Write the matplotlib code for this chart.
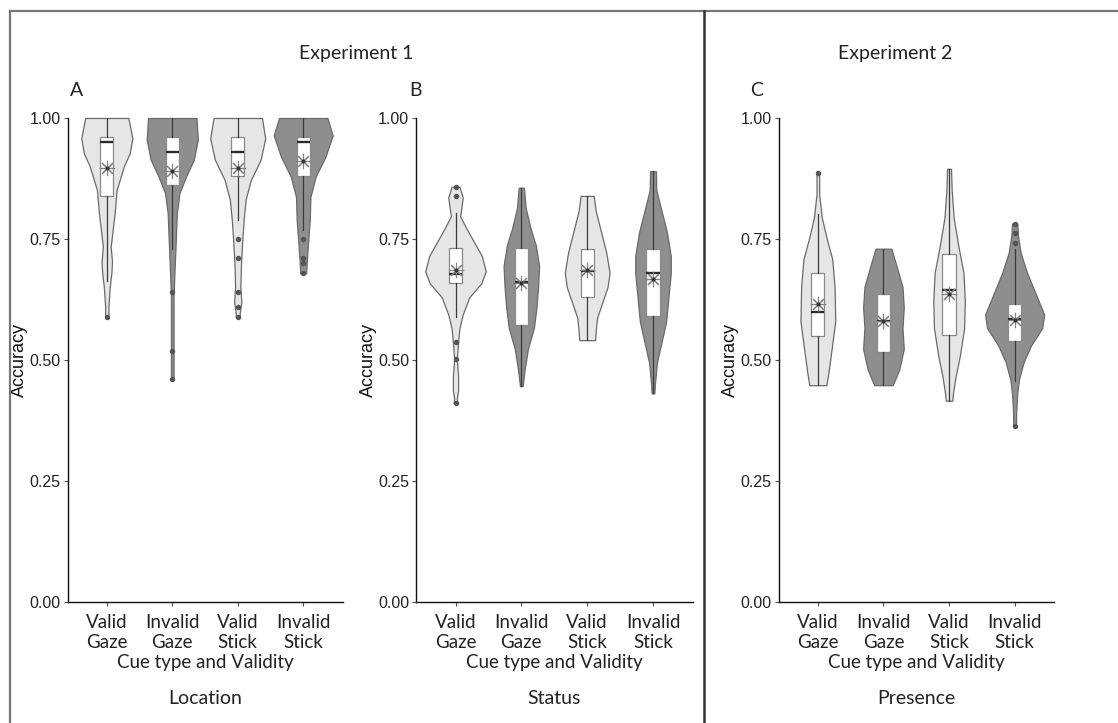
import matplotlib
matplotlib.use("Agg")
import matplotlib.pyplot as plt
from matplotlib.lines import Line2D

# ---------------- data ----------------
categories = ["Valid\nGaze", "Invalid\nGaze", "Valid\nStick", "Invalid\nStick"]
y_ticks = [0.00, 0.25, 0.50, 0.75, 1.00]
panel_letters = ["A", "B", "C"]
panel_names = ["Location", "Status", "Presence"]
experiments = ["Experiment 1", "Experiment 2"]
x_title = "Cue type and Validity"
y_title = "Accuracy"

# violin outlines: accuracy level and half-width (in category units)
a1_y = [1.000, 0.958, 0.927, 0.900, 0.851, 0.803, 0.769, 0.734, 0.703, 0.679, 0.651, 0.610, 0.589]
a1_w = [0.33, 0.39, 0.35, 0.26, 0.15, 0.12, 0.09, 0.06, 0.08, 0.07, 0.045, 0.025, 0.025]
a2_y = [1.000, 0.955, 0.914, 0.879, 0.845, 0.803, 0.734, 0.679, 0.631, 0.527, 0.460]
a2_w = [0.37, 0.39, 0.33, 0.21, 0.11, 0.07, 0.05, 0.033, 0.02, 0.02, 0.02]
a3_y = [1.000, 0.958, 0.914, 0.872, 0.831, 0.789, 0.748, 0.699, 0.651, 0.620, 0.596, 0.589]
a3_w = [0.37, 0.42, 0.35, 0.20, 0.12, 0.09, 0.07, 0.05, 0.04, 0.055, 0.03, 0.03]
a4_y = [1.000, 0.964, 0.920, 0.879, 0.837, 0.789, 0.748, 0.707, 0.683, 0.679]
a4_w = [0.37, 0.45, 0.34, 0.19, 0.11, 0.10, 0.077, 0.056, 0.046, 0.046]

b1_y = [0.858, 0.836, 0.815, 0.797, 0.772, 0.744, 0.715, 0.683, 0.658, 0.630, 0.594, 0.566, 0.537, 0.502, 0.466, 0.438, 0.420, 0.411]
b1_w = [0.06, 0.11, 0.09, 0.07, 0.165, 0.28, 0.40, 0.46, 0.39, 0.21, 0.11, 0.06, 0.04, 0.02, 0.04, 0.04, 0.02, 0.03]
b2_y = [0.856, 0.815, 0.772, 0.737, 0.694, 0.651, 0.609, 0.566, 0.523, 0.480, 0.446]
b2_w = [0.04, 0.065, 0.14, 0.22, 0.27, 0.255, 0.23, 0.19, 0.10, 0.05, 0.02]
b3_y = [0.839, 0.808, 0.765, 0.722, 0.680, 0.651, 0.623, 0.587, 0.559, 0.541]
b3_w = [0.10, 0.13, 0.21, 0.29, 0.34, 0.31, 0.24, 0.15, 0.13, 0.12]
b4_y = [0.890, 0.851, 0.808, 0.765, 0.715, 0.680, 0.637, 0.580, 0.537, 0.495, 0.452, 0.431]
b4_w = [0.045, 0.05, 0.13, 0.21, 0.27, 0.27, 0.24, 0.20, 0.13, 0.06, 0.03, 0.02]

c1_y = [0.886, 0.843, 0.794, 0.751, 0.708, 0.651, 0.580, 0.523, 0.473, 0.448]
c1_w = [0.02, 0.02, 0.06, 0.135, 0.22, 0.255, 0.265, 0.21, 0.16, 0.13]
c2_y = [0.730, 0.694, 0.651, 0.609, 0.566, 0.523, 0.480, 0.448]
c2_w = [0.12, 0.20, 0.29, 0.31, 0.29, 0.31, 0.24, 0.14]
c3_y = [0.895, 0.851, 0.794, 0.737, 0.680, 0.623, 0.566, 0.509, 0.466, 0.431, 0.416]
c3_w = [0.03, 0.04, 0.07, 0.14, 0.22, 0.24, 0.23, 0.165, 0.10, 0.06, 0.05]
c4_y = [0.782, 0.758, 0.722, 0.680, 0.637, 0.594, 0.566, 0.530, 0.495, 0.459, 0.431, 0.395, 0.364]
c4_w = [0.04, 0.05, 0.09, 0.19, 0.32, 0.45, 0.42, 0.25, 0.135, 0.065, 0.04, 0.025, 0.02]

# box-plot summaries per panel (Valid Gaze, Invalid Gaze, Valid Stick, Invalid Stick)
a_q1 = [0.839, 0.861, 0.880, 0.880]
a_med = [0.951, 0.930, 0.930, 0.951]
a_q3 = [0.960, 0.960, 0.960, 0.960]
a_lo = [0.664, 0.730, 0.789, 0.768]
a_hi = [1.000, 1.000, 1.000, 1.000]
a_mean = [0.896, 0.891, 0.896, 0.911]
a_out = [[0.589], [0.640, 0.519, 0.460], [0.750, 0.710, 0.640, 0.610, 0.589], [0.750, 0.710, 0.701, 0.680]]

b_q1 = [0.660, 0.572, 0.630, 0.590]
b_med = [0.678, 0.662, 0.683, 0.680]
b_q3 = [0.732, 0.732, 0.730, 0.730]
b_lo = [0.589, 0.446, 0.541, 0.431]
b_hi = [0.804, 0.856, 0.839, 0.890]
b_mean = [0.685, 0.660, 0.685, 0.667]
b_out = [[0.858, 0.838, 0.537, 0.502, 0.411], [], [], []]

c_q1 = [0.549, 0.517, 0.552, 0.539]
c_med = [0.599, 0.581, 0.644, 0.584]
c_q3 = [0.680, 0.636, 0.718, 0.616]
c_lo = [0.448, 0.448, 0.416, 0.456]
c_hi = [0.802, 0.730, 0.895, 0.730]
c_mean = [0.616, 0.580, 0.637, 0.582]
c_out = [[0.886], [], [], [0.782, 0.763, 0.741, 0.364]]

# ---------------- style ----------------
LIGHT = "#e6e6e6"
DARK = "#8e8e8e"
fills = [LIGHT, DARK, LIGHT, DARK]
NUM_FONT = "Liberation Sans"
TXT_FONT = "Lato"

fig = plt.figure(figsize=(11.18, 7.23), dpi=100)
W, H = 1118.0, 723.0

def px_axes(l, r, t, b):
    return fig.add_axes([l / W, 1 - b / H, (r - l) / W, (b - t) / H])

axes = [px_axes(67.5, 342.5, 118, 602),
        px_axes(416, 692.5, 118, 602),
        px_axes(778.5, 1054, 118, 602)]

profiles = [
    [(a1_y, a1_w), (a2_y, a2_w), (a3_y, a3_w), (a4_y, a4_w)],
    [(b1_y, b1_w), (b2_y, b2_w), (b3_y, b3_w), (b4_y, b4_w)],
    [(c1_y, c1_w), (c2_y, c2_w), (c3_y, c3_w), (c4_y, c4_w)],
]
summaries = [
    (a_q1, a_med, a_q3, a_lo, a_hi, a_mean, a_out),
    (b_q1, b_med, b_q3, b_lo, b_hi, b_mean, b_out),
    (c_q1, c_med, c_q3, c_lo, c_hi, c_mean, c_out),
]
positions = list(range(1, len(categories) + 1))

for ax, prof, summ, letter in zip(axes, profiles, summaries, panel_letters):
    vpstats = []
    widths = []
    for ys, ws in prof:
        vpstats.append(dict(coords=ys, vals=ws, mean=0, median=0,
                            min=min(ys), max=max(ys)))
        widths.append(2 * max(ws))
    vp = ax.violin(vpstats, positions=positions, widths=widths,
                   showmeans=False, showextrema=False, showmedians=False)
    for body, fc in zip(vp["bodies"], fills):
        body.set_facecolor(fc)
        body.set_edgecolor("#6a6a6a")
        body.set_linewidth(0.9)
        body.set_alpha(1)
        body.set_zorder(1)
        body.set_clip_on(False)

    q1, med, q3, lo, hi, mean, out = summ
    stats = [dict(q1=q1[i], med=med[i], q3=q3[i], whislo=lo[i], whishi=hi[i],
                  mean=mean[i], fliers=out[i]) for i in range(len(positions))]
    ax.bxp(stats, positions=positions, widths=0.2, patch_artist=True,
           showmeans=True, meanline=True, showcaps=False,
           boxprops=dict(facecolor="white", edgecolor="#8a8a8a", linewidth=0.9),
           medianprops=dict(color="#2b2b2b", linewidth=1.7, solid_capstyle="butt"),
           meanprops=dict(color="#444444", linewidth=0.8, linestyle="-"),
           whiskerprops=dict(color="#3a3a3a", linewidth=0.9),
           flierprops=dict(marker="o", markersize=2.9, markerfacecolor="#555555",
                           markeredgecolor="#555555", linestyle="none"),
           zorder=2)
    ax.plot(positions, mean, linestyle="none", marker=(8, 2, 0), markersize=11,
            color="#808080", markeredgewidth=0.8, zorder=4)
    ax.plot(positions, mean, linestyle="none", marker="o", markersize=1.8,
            color="#333333", zorder=5)

    ax.set_xlim(0.4, 4.6)
    ax.set_ylim(0, 1)
    ax.set_xticks(positions)
    ax.set_xticklabels(categories, fontfamily=TXT_FONT, fontsize=13.5,
                       linespacing=1.2, color="#222222")
    ax.set_yticks(y_ticks)
    ax.set_yticklabels(["%.2f" % v for v in y_ticks], fontfamily=NUM_FONT,
                       fontsize=11.5, color="#222222")
    ax.tick_params(axis="both", direction="out", length=3, width=0.8,
                   color="#555555", pad=2)
    ax.tick_params(axis="x", pad=6)
    for s in ("top", "right"):
        ax.spines[s].set_visible(False)
    for s in ("left", "bottom"):
        ax.spines[s].set_color("#111111")
        ax.spines[s].set_linewidth(1.0)
    ax.set_xlabel(x_title, fontfamily=TXT_FONT, fontsize=13.5, color="#222222",
                  labelpad=2)
    ax.set_ylabel(y_title, fontfamily=NUM_FONT, fontsize=13, color="#111111",
                  labelpad=1)
    ax.patch.set_alpha(0)

# panel letters
for ax, letter in zip(axes, panel_letters):
    x0 = ax.get_position().x0
    fig.text(x0 + (0.002 if letter == "A" else -0.006 if letter == "B" else -0.025),
             1 - 90 / H, letter, fontfamily=TXT_FONT, fontsize=14,
             ha="left", va="center", color="#222222")

# experiment headers and panel names
fig.text(356 / W, 1 - 53 / H, experiments[0], fontfamily=TXT_FONT, fontsize=14,
         ha="center", va="center", color="#222222")
fig.text(895 / W, 1 - 53 / H, experiments[1], fontfamily=TXT_FONT, fontsize=14,
         ha="center", va="center", color="#222222")
for ax, name in zip(axes, panel_names):
    p = ax.get_position()
    fig.text((p.x0 + p.x1) / 2, 1 - 699 / H, name, fontfamily=TXT_FONT,
             fontsize=14, ha="center", va="center", color="#222222")

# frame lines
fig.add_artist(Line2D([9.5 / W, 1.0], [1 - 11 / H, 1 - 11 / H], color="#777777",
                      linewidth=1.6, transform=fig.transFigure))
fig.add_artist(Line2D([9.5 / W, 9.5 / W], [1 - 11 / H, 0], color="#777777",
                      linewidth=1.6, transform=fig.transFigure))
fig.add_artist(Line2D([704 / W, 704 / W], [1 - 11 / H, 0], color="#333333",
                      linewidth=1.8, transform=fig.transFigure))

fig.savefig("out.png", dpi=100, facecolor="white")
